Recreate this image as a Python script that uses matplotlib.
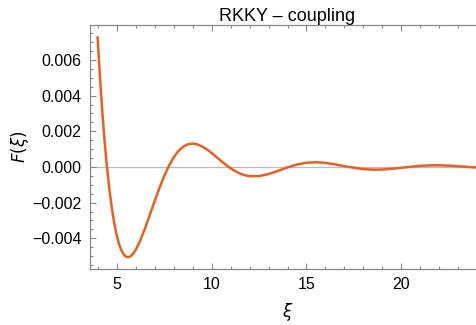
import matplotlib
matplotlib.use("Agg")
import matplotlib.pyplot as plt
from matplotlib.ticker import MultipleLocator

plt.rcParams['font.family'] = ['Liberation Sans', 'DejaVu Sans']
plt.rcParams['mathtext.fontset'] = 'dejavusans'

xi = [4.0, 4.125, 4.25, 4.375, 4.5, 4.625, 4.75, 4.875, 5.0, 5.125, 5.25,
      5.375, 5.5, 5.625, 5.75, 5.875, 6.0, 6.25, 6.5, 6.75,
      7.0, 7.25, 7.5, 7.75, 8.0, 8.25, 8.5, 8.75, 9.0, 9.25, 9.5, 9.75,
      10.0, 10.25, 10.5, 10.75, 11.0, 11.25, 11.5, 11.75, 12.0,
      12.5, 13.0, 13.5, 14.0, 14.5, 15.0, 15.5, 16.0, 16.5, 17.0, 17.5,
      18.0, 18.5, 19.0, 19.5, 20.0, 20.5, 21.0, 21.5, 22.0, 22.5, 23.0,
      23.5, 24.0]
F = [0.0072569, 0.0050207, 0.0030678, 0.0013774, -0.0000706, -0.0012950,
     -0.0023138, -0.0031445, -0.0038036, -0.0043069, -0.0046695,
     -0.0049061, -0.0050305, -0.0050559, -0.0049950, -0.0048595,
     -0.0046608, -0.0041155, -0.0034356, -0.0026869,
     -0.0019244, -0.0011924, -0.0005252, 0.0000527, 0.0005257, 0.0008861,
     0.0011332, 0.0012721, 0.0013127, 0.0012680, 0.0011538, 0.0009870,
     0.0007847, 0.0005634, 0.0003384, 0.0001231, -0.0000716, -0.0002372,
     -0.0003676, -0.0004604, -0.0005142,
     -0.0005136, -0.0003983, -0.0002176, -0.0000240, 0.0001376, 0.0002379,
     0.0002663, 0.0002294, 0.0001466, 0.0000445, -0.0000442, -0.0001204,
     -0.0001515, -0.0001430, -0.0001031, -0.0000453, 0.0000149, 0.0000634,
     0.0000909, 0.0000939, 0.0000748, 0.0000408, 0.0000015, -0.0000334]

xticks = [5, 10, 15, 20]
yticks = [-0.004, -0.002, 0.000, 0.002, 0.004, 0.006]
ytick_labels = ['\u22120.004', '\u22120.002', '0.000', '0.002', '0.004', '0.006']

fig = plt.figure(figsize=(4.76, 3.25), dpi=100)
ax = fig.add_axes([90/476, 56/325, (485-90)/476, (269-25)/325])

ax.axhline(0, color='#bbbbbb', lw=0.9, zorder=1)
ax.plot(xi, F, color='#E8601C', lw=1.8, zorder=3, solid_joinstyle='round')

ax.set_xlim(3.6, 24.4)
ax.set_ylim(-0.00572, 0.00796)
ax.set_xticks(xticks)
ax.set_xticklabels([str(t) for t in xticks])
ax.set_yticks(yticks)
ax.set_yticklabels(ytick_labels)
ax.xaxis.set_minor_locator(MultipleLocator(1))
ax.yaxis.set_minor_locator(MultipleLocator(0.0005))

for s in ax.spines.values():
    s.set_color('#888888')
    s.set_linewidth(0.9)

ax.tick_params(which='both', direction='in', top=True, right=True,
               color='#888888', width=0.8, labelsize=11.5, labelcolor='black')
ax.tick_params(which='major', length=4, pad=6)
ax.tick_params(which='minor', length=2)

ax.set_title('RKKY \u2013 coupling', fontsize=13, pad=3)
ax.set_xlabel(r'$\xi$', fontsize=12, labelpad=6)
ax.set_ylabel(r'$F(\xi)$', fontsize=12, labelpad=1)

fig.savefig('out.png', dpi=100)
